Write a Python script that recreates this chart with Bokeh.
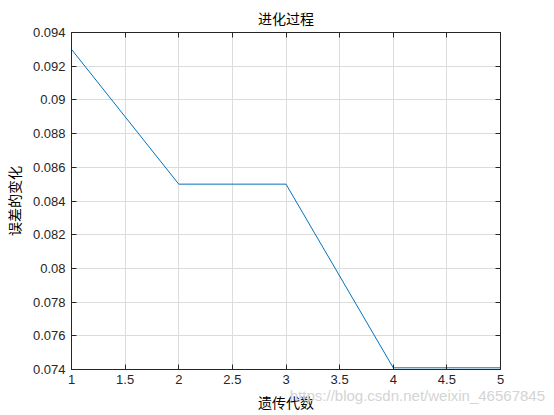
from bokeh.plotting import figure
from bokeh.models import FixedTicker, CustomJSTickFormatter, LinearAxis, Range1d, Div
from bokeh.layouts import column
from bokeh.embed import file_html
from bokeh.resources import INLINE

# evolution of the error per generation
generations = [1, 2, 3, 4, 5]
errors = [0.0930, 0.0850, 0.0850, 0.0741, 0.0741]

x_ticks = [1, 1.5, 2, 2.5, 3, 3.5, 4, 4.5, 5]
y_ticks = [0.074, 0.076, 0.078, 0.08, 0.082, 0.084, 0.086, 0.088, 0.09, 0.092, 0.094]

title_text = "进化过程"
x_label = "遗传代数"
y_label = "误差的变化"
watermark = "https://blog.csdn.net/weixin_46567845"

p = figure(frame_width=429, frame_height=337, output_backend="svg", toolbar_location=None,
           x_range=Range1d(1, 5), y_range=Range1d(0.074, 0.094),
           min_border_left=67, min_border_top=32, min_border_right=40, min_border_bottom=42)

p.title.text = title_text
p.title.align = "center"
p.title.text_font = "Noto Sans CJK SC"
p.title.text_font_size = "14px"
p.title.text_font_style = "normal"
p.title.text_color = "#000000"
p.title.offset = 0
p.title.standoff = 10

fmt = CustomJSTickFormatter(code="return parseFloat(tick.toFixed(4)).toString();")
blank = CustomJSTickFormatter(code="return '';")

p.line(generations, errors, line_color="#0072BD", line_width=1)

p.outline_line_color = "#262626"
p.outline_line_width = 1

for ax in [p.xaxis[0], p.yaxis[0]]:
    ax.formatter = fmt
    ax.major_tick_in = 5
    ax.major_tick_out = 0
    ax.minor_tick_line_color = None
    ax.axis_line_color = "#262626"
    ax.major_tick_line_color = "#262626"
    ax.major_label_text_font = "Liberation Sans"
    ax.major_label_text_font_size = "13px"
    ax.major_label_text_color = "#262626"
    ax.axis_label_text_font = "Noto Sans CJK SC"
    ax.axis_label_text_font_size = "14px"
    ax.axis_label_text_font_style = "normal"
    ax.axis_label_text_color = "#000000"

p.xaxis[0].ticker = FixedTicker(ticks=x_ticks)
p.yaxis[0].ticker = FixedTicker(ticks=y_ticks)
p.xaxis[0].axis_label = x_label
p.yaxis[0].axis_label = y_label
p.xaxis[0].major_label_standoff = 5
p.xaxis[0].axis_label_standoff = 5
p.yaxis[0].major_label_standoff = 6
p.yaxis[0].axis_label_standoff = 6

top = LinearAxis(ticker=FixedTicker(ticks=x_ticks), formatter=blank)
right = LinearAxis(ticker=FixedTicker(ticks=y_ticks), formatter=blank)
for ax in [top, right]:
    ax.major_tick_in = 5
    ax.major_tick_out = 0
    ax.minor_tick_line_color = None
    ax.axis_line_color = "#262626"
    ax.major_tick_line_color = "#262626"
    ax.major_label_standoff = 0
p.add_layout(top, "above")
p.add_layout(right, "right")

p.xgrid.ticker = FixedTicker(ticks=x_ticks)
p.ygrid.ticker = FixedTicker(ticks=y_ticks)
p.grid.grid_line_color = "#dcdcdc"
p.grid.grid_line_width = 1

# csdn watermark that sits over the bottom of the picture
wm = Div(text=watermark, width=280, height=18, margin=(-27, 0, 0, 265),
         styles={"font-family": "Liberation Sans", "font-size": "15px", "color": "#d4d4d4",
                 "text-align": "right", "white-space": "nowrap", "line-height": "18px"})

layout = column(p, wm, spacing=0)

open("out.html", "w").write(file_html(layout, INLINE))
